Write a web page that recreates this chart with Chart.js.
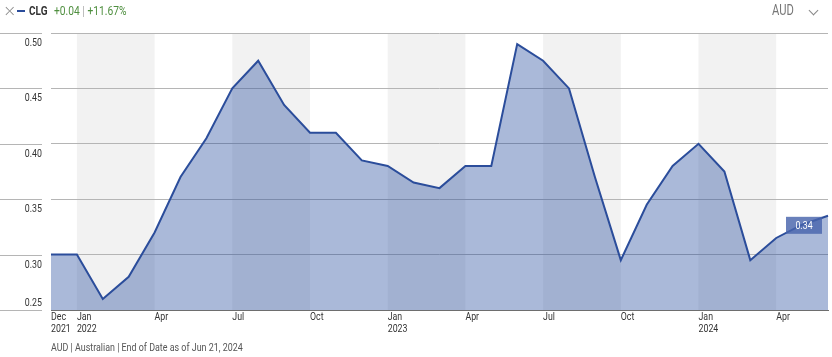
<!DOCTYPE html>
<html>
<head>
<meta charset="utf-8">
<script src="https://cdn.jsdelivr.net/npm/chart.js@4"></script>
<style>
  html, body { margin:0; padding:0; background:#fff; width:832px; height:357px; overflow:hidden; }
  body { position:relative; font-family:Roboto,"DejaVu Sans",sans-serif; }
  #c { position:absolute; left:0; top:0; }
  .t { position:absolute; white-space:nowrap; transform-origin:0 50%; transform:scaleX(0.8); line-height:16px; }
  #x { left:3px; top:3px; color:#8a8a8a; font-size:16px; transform:none; font-family:"DejaVu Sans",sans-serif; font-weight:200; line-height:16px; }
  #dash { position:absolute; left:17px; top:10px; width:8px; height:2px; background:#2b4d9b; }
  #tk { left:29px; top:3px; color:#333; font-weight:bold; font-size:12.5px; }
  #chg { left:54px; top:3px; color:#4f8f3f; font-size:12.5px; transform:scaleX(0.82); }
  #chg .sep { color:#aaa; }
  #cur { left:772px; top:2px; color:#777; font-size:14px; }
  #chev { position:absolute; left:810px; top:7px; width:6px; height:6px; border-right:1px solid #888; border-bottom:1px solid #888; transform:rotate(45deg); }
  #foot { left:51px; top:340px; font-size:11px; color:#555; transform:scaleX(0.81); }
</style>
</head>
<body>
<canvas id="c" width="832" height="357"></canvas>
<div class="t" id="x">×</div>
<div id="dash"></div>
<div class="t" id="tk">CLG</div>
<div class="t" id="chg">+0.04 <span class="sep">|</span> +11.67%</div>
<div class="t" id="cur">AUD</div>
<div id="chev"></div>
<div class="t" id="foot">AUD | Australian | End of Date as of Jun 21, 2024</div>
<script>
// ---- data ----
const months = [
  'Dec 2021','Jan 2022','Feb 2022','Mar 2022','Apr 2022','May 2022','Jun 2022',
  'Jul 2022','Aug 2022','Sep 2022','Oct 2022','Nov 2022','Dec 2022',
  'Jan 2023','Feb 2023','Mar 2023','Apr 2023','May 2023','Jun 2023',
  'Jul 2023','Aug 2023','Sep 2023','Oct 2023','Nov 2023','Dec 2023',
  'Jan 2024','Feb 2024','Mar 2024','Apr 2024','May 2024','Jun 2024'
];
const clgValues = [
  0.30, 0.30, 0.26, 0.28, 0.32, 0.37, 0.405,
  0.45, 0.475, 0.435, 0.41, 0.41, 0.385,
  0.38, 0.365, 0.36, 0.38, 0.38, 0.49,
  0.475, 0.45, 0.37, 0.295, 0.345, 0.38,
  0.40, 0.375, 0.295, 0.315, 0.327, 0.335
];
const yTicks = [0.25, 0.30, 0.35, 0.40, 0.45, 0.50];
const quarterMonths = ['Jan','Apr','Jul','Oct'];
const shadedRanges = [
  ['Jan 2022','Apr 2022'], ['Jul 2022','Oct 2022'],
  ['Jan 2023','Apr 2023'], ['Jul 2023','Oct 2023'],
  ['Jan 2024','Apr 2024']
];
const lastLabel = '0.34';

const FONT = 'Roboto, "DejaVu Sans", sans-serif';
const SQUEEZE = 0.8;

function tickLines(i) {
  const [m, yr] = months[i].split(' ');
  if (i === 0 || m === 'Jan') return [m, yr];
  if (quarterMonths.includes(m)) return [m];
  return [];
}

function squeezedText(ctx, txt, x, y) {
  ctx.save();
  ctx.translate(x, y);
  ctx.scale(SQUEEZE, 1);
  ctx.fillText(txt, 0, 0);
  ctx.restore();
}

const decor = {
  id: 'decor',
  beforeDraw(chart) {
    const {ctx, chartArea: a, scales: {x}} = chart;
    ctx.save();
    ctx.fillStyle = '#f2f2f2';
    shadedRanges.forEach(([s, e]) => {
      const x0 = x.getPixelForValue(months.indexOf(s));
      const x1 = x.getPixelForValue(months.indexOf(e));
      ctx.fillRect(x0, a.top, x1 - x0, a.bottom - a.top);
    });
    ctx.restore();
  },
  afterDraw(chart) {
    const {ctx, chartArea: a, scales: {x, y}} = chart;
    ctx.save();
    ctx.strokeStyle = '#b5b5b5';
    ctx.lineWidth = 1;
    ctx.fillStyle = '#333';
    ctx.font = '11px ' + FONT;
    ctx.textBaseline = 'middle';
    // y axis: outer tick segments + labels
    ctx.textAlign = 'right';
    yTicks.forEach((v, i) => {
      const py = Math.round(y.getPixelForValue(v)) + 0.5;
      ctx.beginPath(); ctx.moveTo(0, py); ctx.lineTo(42, py); ctx.stroke();
      const ly = i === 0 ? py - 7 : py + 9.5;
      squeezedText(ctx, v.toFixed(2), 42, ly);
    });
    // x axis labels
    ctx.textAlign = 'left';
    months.forEach((m, i) => {
      const px = x.getPixelForValue(i);
      tickLines(i).forEach((ln, k) => squeezedText(ctx, ln, px, a.bottom + 7 + k * 12.5));
    });
    // last value tag
    const n = clgValues.length - 1;
    const px = x.getPixelForValue(n);
    const py = y.getPixelForValue(clgValues[n]);
    ctx.fillStyle = 'rgba(72,100,172,0.82)';
    ctx.fillRect(px - 42, py + 1, 36, 17);
    ctx.fillStyle = '#fff';
    ctx.textAlign = 'center';
    squeezedText(ctx, lastLabel, px - 24, py + 10);
    ctx.restore();
  }
};

new Chart(document.getElementById('c'), {
  type: 'line',
  data: {
    labels: months,
    datasets: [{
      label: 'CLG',
      data: clgValues,
      borderColor: '#2b4d9b',
      borderWidth: 2,
      backgroundColor: 'rgba(34,73,156,0.385)',
      fill: 'start',
      pointRadius: 0,
      tension: 0
    }]
  },
  options: {
    responsive: false,
    devicePixelRatio: 1,
    animation: false,
    layout: { padding: { top: 33, right: 4, left: 0, bottom: 0 } },
    plugins: { legend: { display: false }, tooltip: { enabled: false } },
    scales: {
      x: {
        type: 'category',
        offset: false,
        grid: { display: false, drawTicks: false },
        border: { display: true, color: '#6e6e6e', width: 1 },
        afterFit: s => { s.height = 47; },
        ticks: { display: false, autoSkip: false, maxRotation: 0 }
      },
      y: {
        min: 0.25, max: 0.50,
        afterFit: s => { s.width = 51; },
        afterBuildTicks: s => { s.ticks = yTicks.map(v => ({ value: v })); },
        grid: { color: '#b5b5b5', lineWidth: 1, drawTicks: false },
        border: { display: false },
        ticks: { display: false }
      }
    }
  },
  plugins: [decor]
});
</script>
</body>
</html>
